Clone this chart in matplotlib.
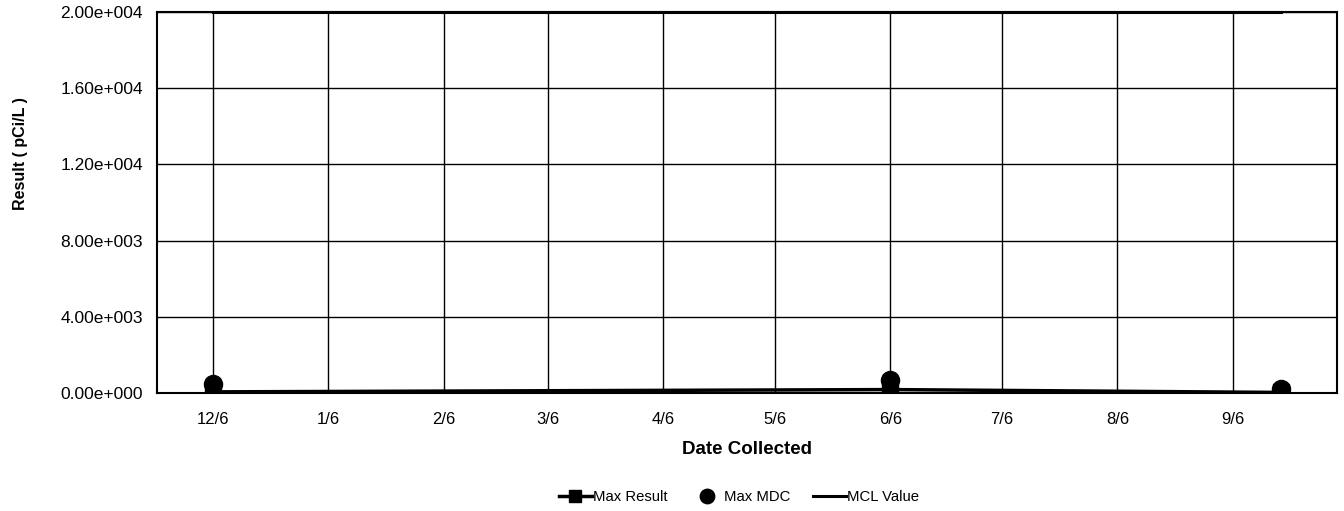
import matplotlib
matplotlib.use("Agg")
import matplotlib.pyplot as plt
import datetime as dt

plt.rcParams['font.family'] = ['Liberation Sans', 'DejaVu Sans']

# datos
fechas = [dt.date(2006, 12, 6), dt.date(2007, 6, 6), dt.date(2007, 9, 19)]
max_result = [60, 180, 30]
max_mdc = [480, 700, 200]
mcl_value = [20000, 20000, 20000]

ticks_mes = [dt.date(2006, 12, 6)] + [dt.date(2007, m, 6) for m in range(1, 10)]
etiquetas = ["12/6", "1/6", "2/6", "3/6", "4/6", "5/6", "6/6", "7/6", "8/6", "9/6"]
ticks_y = [0, 4000, 8000, 12000, 16000, 20000]
etiquetas_y = ["0.00e+000", "4.00e+003", "8.00e+003",
               "1.20e+004", "1.60e+004", "2.00e+004"]

fig = plt.figure(figsize=(13.44, 5.11), dpi=100)
ax = fig.add_axes([0.1168, 0.2309, 0.878, 0.7456])

ax.plot(fechas, max_result, color="black", lw=2.5, marker="s", ms=11,
        label="Max Result", zorder=4)
ax.plot(fechas, max_mdc, color="black", lw=0, marker="o", ms=13,
        label="Max MDC", zorder=5)
ax.plot(fechas, mcl_value, color="black", lw=2.2, label="MCL Value",
        zorder=3, clip_on=False)

ax.set_xlim(dt.date(2006, 11, 21), dt.date(2007, 10, 4))
ax.set_ylim(0, 20000)
ax.set_xticks(ticks_mes)
ax.set_xticklabels(etiquetas)
ax.set_yticks(ticks_y)
ax.set_yticklabels(etiquetas_y)
ax.tick_params(length=0, labelsize=12, pad=14)
ax.tick_params(axis="y", labelsize=12.5, pad=10)
ax.grid(True, color="black", lw=1)
for s in ax.spines.values():
    s.set_linewidth(1.5)

ax.set_xlabel("Date Collected", fontsize=13.5, fontweight="bold", labelpad=10)
fig.text(0.015, 0.70, "Result ( pCi/L )", rotation=90, fontsize=11.5,
         fontweight="bold", ha="center", va="center")

fig.legend(loc="center", bbox_to_anchor=(0.55, 0.027), ncol=3, frameon=False,
           fontsize=10.7, handlelength=2.2, handletextpad=0.1, columnspacing=1.5,
           markerscale=0.8)

fig.savefig("out.png", dpi=100)
